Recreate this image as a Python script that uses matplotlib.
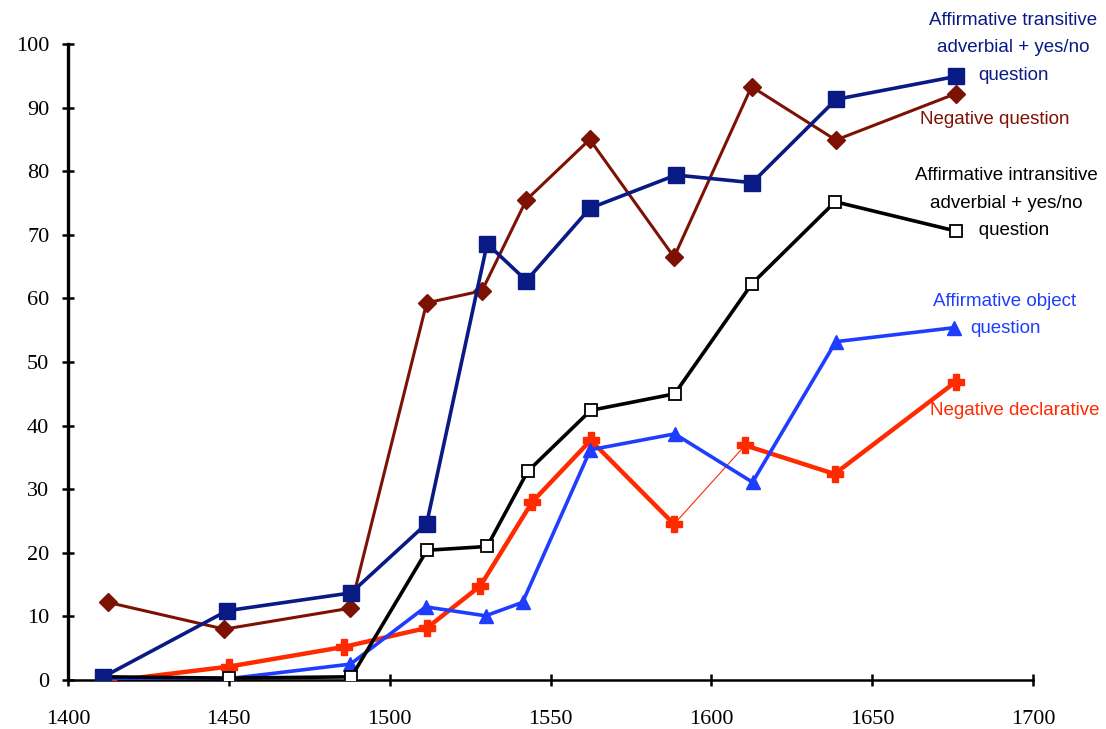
import matplotlib.pyplot as plt

# data
yrs_trans = [1411, 1449.5, 1488, 1511.5, 1530.3, 1542.5, 1562.3, 1589, 1612.7, 1638.8, 1676]
trans = [0.5, 10.9, 13.7, 24.6, 68.6, 62.8, 74.2, 79.4, 78.2, 91.3, 94.9]

yrs_negq = [1412.5, 1448.6, 1487.8, 1511.5, 1528.7, 1542.5, 1562.2, 1588.4, 1612.5, 1638.7, 1676]
negq = [12.2, 8.0, 11.3, 59.3, 61.2, 75.5, 85.0, 66.5, 93.3, 84.9, 92.2]

yrs_intr = [1411, 1449.9, 1488.1, 1511.6, 1530.3, 1542.9, 1562.5, 1588.6, 1612.6, 1638.5, 1676]
intr = [0.5, 0.3, 0.5, 20.4, 21.0, 32.8, 42.4, 45.0, 62.3, 75.2, 70.6]

yrs_obj = [1410.5, 1449.9, 1487.8, 1511.2, 1529.8, 1541.3, 1562.4, 1588.6, 1612.8, 1638.7, 1675.5]
obj = [0.3, 0.2, 2.5, 11.5, 10.1, 12.2, 36.2, 38.7, 31.1, 53.2, 55.4]

yrs_negd = [1412.5, 1449.9, 1485.7, 1511.6, 1528.2, 1544.3, 1562.5, 1588.4, 1610.5, 1638.3, 1676]
negd = [-0.2, 2.1, 5.2, 8.2, 14.8, 28.0, 37.7, 24.5, 36.9, 32.4, 46.9]

navy = '#0a1a85'
maroon = '#7d1204'
blue = '#1f3dff'
red = '#ff2a00'

fig = plt.figure(figsize=(11.06, 7.29), dpi=100)
ax = fig.add_axes([0.0615, 0.0672, 0.8725, 0.8724])

ax.plot(yrs_negd[:8], negd[:8], color=red, lw=3.2, marker='P', ms=11.5, zorder=3)
ax.plot(yrs_negd[7:9], negd[7:9], color=red, lw=0.8, zorder=3)
ax.plot(yrs_negd[8:], negd[8:], color=red, lw=3.2, marker='P', ms=11.5, zorder=3)

ax.plot(yrs_obj, obj, color=blue, lw=2.6, marker='^', ms=10.5, zorder=4)

ax.plot(yrs_intr, intr, color='black', lw=2.6, marker='s', ms=9,
        mfc='white', mec='black', mew=1.3, zorder=5)

ax.plot(yrs_negq, negq, color=maroon, lw=2.2, marker='D', ms=9.5, zorder=6)
ax.plot(yrs_trans, trans, color=navy, lw=2.6, marker='s', ms=11, zorder=7)

ax.set_xlim(1400, 1700)
ax.set_ylim(0, 100)
ax.set_xticks(range(1400, 1701, 50))
ax.set_yticks(range(0, 101, 10))

for side in ['top', 'right']:
    ax.spines[side].set_visible(False)
ax.spines['left'].set_linewidth(2.4)
ax.spines['bottom'].set_linewidth(1.8)
ax.tick_params(direction='inout', length=9, width=1.8, labelsize=16)
ax.tick_params(axis='x', pad=17)
ax.tick_params(axis='y', pad=9)
for lab in ax.get_xticklabels() + ax.get_yticklabels():
    lab.set_fontfamily('Liberation Serif')

txt = dict(fontsize=13.5, family='Liberation Sans', ha='center', va='center',
           linespacing=1.8, clip_on=False)
ax.text(1693.8, 99.4, 'Affirmative transitive\nadverbial + yes/no\nquestion', color=navy, **txt)
ax.text(1688, 88.2, 'Negative question', color=maroon, **txt)
ax.text(1691.6, 75.0, 'Affirmative intransitive\nadverbial + yes/no\n   question', color='black', **txt)
ax.text(1691.3, 57.4, 'Affirmative object\nquestion', color=blue, **txt)
ax.text(1694.4, 42.3, 'Negative declarative', color=red, **txt)

plt.savefig('out.png', dpi=100)
